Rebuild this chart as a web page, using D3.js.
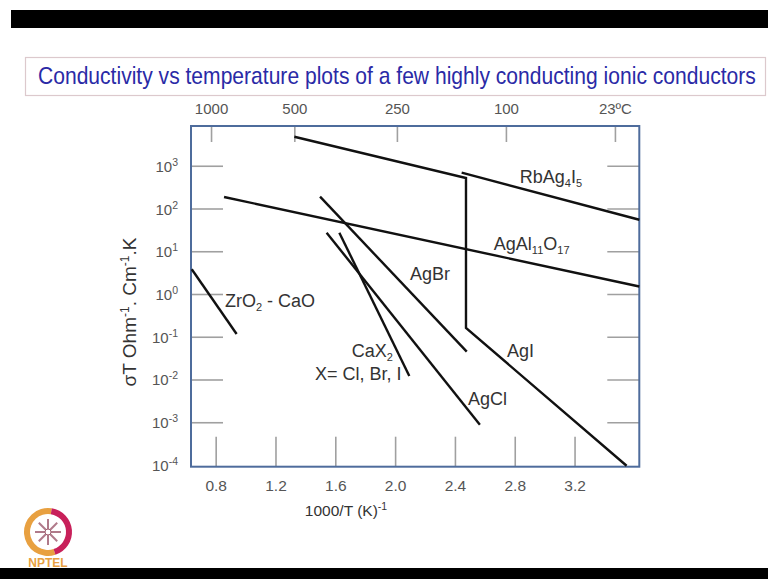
<!DOCTYPE html>
<html><head><meta charset="utf-8">
<script src="https://cdn.jsdelivr.net/npm/d3@7"></script>
<style>
html,body{margin:0;padding:0;background:#fff;}
svg text{font-family:"Liberation Sans",Arial,sans-serif;}
</style></head>
<body>
<svg id="chart" width="768" height="579"></svg>
<script>
// ---------- data ----------
const titleText = "Conductivity vs temperature plots of a few highly conducting ionic conductors";
const xTicks = [0.8, 1.2, 1.6, 2.0, 2.4, 2.8, 3.2];
const xTickLabels = ["0.8", "1.2", "1.6", "2.0", "2.4", "2.8", "3.2"];
const yTickExponents = [3, 2, 1, 0, -1, -2, -3, -4];
const topTickLabels = ["1000", "500", "250", "100", "23ºC"];
const topTickPositions = [0.769, 1.326, 2.012, 2.741, 3.470]; // 1000/T positions
const seriesNames = ["ZrO2-CaO", "AgAl11O17", "AgI", "RbAg4I5", "AgBr", "AgCl", "CaX2"];
const seriesX = [
  [0.64, 0.94],
  [0.856, 3.633],
  [1.326, 2.474, 2.474, 3.548],
  [2.445, 3.633],
  [1.498, 2.479],
  [1.542, 2.567],
  [1.627, 2.095]
];
const seriesSigmaT = [
  [3.79, 0.116],
  [186, 1.5],
  [4775, 518, 0.161, 0.000096],
  [689, 54.5],
  [189, 0.0449],
  [27.2, 0.00087],
  [27.2, 0.0121]
];

// ---------- layout ----------
const W = 768, H = 579;
const plot = {left: 191, right: 639.3, top: 126, bottom: 466.7};
const svg = d3.select("#chart");

const x = d3.scaleLinear().domain([0.635, 3.633]).range([plot.left, plot.right]);
const y = d3.scaleLog().domain([Math.pow(10, -4.04), Math.pow(10, 3.93)]).range([plot.bottom, plot.top]);

// slide chrome
svg.append("rect").attr("x", 11).attr("y", 10).attr("width", W - 11).attr("height", 18).attr("fill", "#000");
svg.append("rect").attr("x", 0).attr("y", 568).attr("width", W).attr("height", 11).attr("fill", "#000");

// title box
svg.append("rect").attr("x", 25.5).attr("y", 57.5).attr("width", 740).attr("height", 38)
  .attr("fill", "#fff").attr("stroke", "#dcc9cd").attr("stroke-width", 1.2);
const title = svg.append("text").attr("x", 0).attr("y", 0)
  .attr("font-size", 24).attr("fill", "#2a2aa6")
  .text(titleText);
const natural = title.node().getComputedTextLength();
const sx = 718 / natural;
title.attr("transform", `translate(38,84) scale(${sx},1)`);

// ticks (gray, inward)
const tickColor = "#a0a0a0";
// bottom ticks
const xAxis = d3.axisBottom(x).tickValues(xTicks).tickSizeInner(-30).tickSizeOuter(0).tickFormat((d, i) => xTickLabels[i]);
const gx = svg.append("g").attr("transform", `translate(0,${plot.bottom})`).call(xAxis);
gx.select(".domain").remove();
gx.selectAll(".tick line").attr("stroke", tickColor).attr("stroke-width", 1.6);
gx.selectAll(".tick text").attr("dy", 0).attr("y", 24).attr("font-size", 15.5).attr("fill", "#555")
  .style("font-family", "'Liberation Sans',Arial,sans-serif");

// top ticks
const gtop = svg.append("g").attr("transform", `translate(0,${plot.top})`)
  .call(d3.axisTop(x).tickValues(topTickPositions).tickSizeInner(-16).tickSizeOuter(0).tickFormat((d, i) => topTickLabels[i]));
gtop.select(".domain").remove();
gtop.selectAll(".tick line").attr("stroke", tickColor).attr("stroke-width", 1.6);
gtop.selectAll(".tick text").attr("dy", 0).attr("y", -12).attr("font-size", 15).attr("fill", "#555")
  .style("font-family", "'Liberation Sans',Arial,sans-serif");

// left/right ticks
const yTickVals = yTickExponents.map(e => Math.pow(10, e));
const innerY = yTickVals.filter(v => v > 2e-4);
const gl = svg.append("g").attr("transform", `translate(${plot.left},0)`)
  .call(d3.axisLeft(y).tickValues(innerY).tickSizeInner(-32).tickSizeOuter(0).tickFormat(""));
gl.select(".domain").remove();
gl.selectAll(".tick line").attr("stroke", tickColor).attr("stroke-width", 1.6);
const gr = svg.append("g").attr("transform", `translate(${plot.right},0)`)
  .call(d3.axisRight(y).tickValues(innerY).tickSizeInner(-32).tickSizeOuter(0).tickFormat(""));
gr.select(".domain").remove();
gr.selectAll(".tick line").attr("stroke", tickColor).attr("stroke-width", 1.6);

// y tick labels with superscripts
yTickExponents.forEach(e => {
  const t = svg.append("text").attr("x", 178).attr("y", y(Math.pow(10, e)) + 6)
    .attr("text-anchor", "end").attr("font-size", 15).attr("fill", "#555");
  t.append("tspan").text("10");
  t.append("tspan").attr("dy", -6).attr("font-size", 10.5).text(String(e));
});

// frame
svg.append("rect").attr("x", plot.left).attr("y", plot.top)
  .attr("width", plot.right - plot.left).attr("height", plot.bottom - plot.top)
  .attr("fill", "none").attr("stroke", "#4e6c9c").attr("stroke-width", 2);

// series lines
const line = d3.line().x(d => x(d[0])).y(d => y(d[1]));
seriesNames.forEach((name, i) => {
  const pts = seriesX[i].map((v, j) => [v, seriesSigmaT[i][j]]);
  svg.append("path").datum(pts).attr("d", line)
    .attr("fill", "none").attr("stroke", "#111").attr("stroke-width", 2.4)
    .attr("stroke-linejoin", "miter");
});

// series labels (anchor in data units; left/baseline)
const labelAnchors = [
  {parts: [["ZrO", 0], ["2", 1], [" - CaO", 0]], x: 0.862, y: 0.498},
  {parts: [["AgBr", 0]], x: 2.099, y: 2.13},
  {parts: [["CaX", 0], ["2", 1]], x: 1.71, y: 0.0343},
  {parts: [["X= Cl, Br, I", 0]], x: 1.464, y: 0.0098},
  {parts: [["AgCl", 0]], x: 2.487, y: 0.00255},
  {parts: [["AgI", 0]], x: 2.748, y: 0.0343},
  {parts: [["AgAl", 0], ["11", 1], ["O", 0], ["17", 1]], x: 2.66, y: 10.7},
  {parts: [["RbAg", 0], ["4", 1], ["I", 0], ["5", 1]], x: 2.834, y: 395}
];
labelAnchors.forEach(L => {
  const t = svg.append("text").attr("x", x(L.x)).attr("y", y(L.y))
    .attr("font-size", 18).attr("fill", "#333");
  let sub = 0;
  L.parts.forEach(([s, isSub]) => {
    const ts = t.append("tspan").text(s);
    if (isSub && !sub) { ts.attr("dy", 4).attr("font-size", 11); sub = 1; }
    else if (!isSub && sub) { ts.attr("dy", -4); sub = 0; }
    else if (isSub) ts.attr("font-size", 11);
  });
});

// axis titles
const yt = svg.append("text").attr("transform", "translate(136,312) rotate(-90)")
  .attr("text-anchor", "middle").attr("font-size", 19).attr("fill", "#333");
yt.append("tspan").text("σT Ohm");
yt.append("tspan").attr("dy", -7).attr("font-size", 12).text("-1");
yt.append("tspan").attr("dy", 7).text(". Cm");
yt.append("tspan").attr("dy", -7).attr("font-size", 12).text("-1");
yt.append("tspan").attr("dy", 7).text(".K");

const xt = svg.append("text").attr("x", 346).attr("y", 516)
  .attr("text-anchor", "middle").attr("font-size", 15.5).attr("fill", "#333");
xt.append("tspan").text("1000/T (K)");
xt.append("tspan").attr("dy", -6).attr("font-size", 10.5).text("-1");

// NPTEL logo (approximate)
const logo = svg.append("g").attr("transform", "translate(48,532)");
logo.append("path").attr("d", d3.arc()({innerRadius: 18, outerRadius: 24, startAngle: Math.PI * 0.9, endAngle: Math.PI * 2.05}))
  .attr("fill", "#e8a040");
logo.append("path").attr("d", d3.arc()({innerRadius: 18, outerRadius: 24, startAngle: Math.PI * 0.05, endAngle: Math.PI * 0.9}))
  .attr("fill", "#c8205a");
for (let k = 0; k < 8; k++) {
  const a = k * Math.PI / 4;
  logo.append("line").attr("x1", 0).attr("y1", 0)
    .attr("x2", 13 * Math.cos(a)).attr("y2", 13 * Math.sin(a))
    .attr("stroke", "#b07a8a").attr("stroke-width", 2);
}
logo.append("circle").attr("r", 3).attr("fill", "#fff").attr("stroke", "#a06070");
svg.append("text").attr("x", 48).attr("y", 567).attr("text-anchor", "middle")
  .attr("font-size", 12).attr("font-weight", "bold").attr("fill", "#e8a040").text("NPTEL");
</script>
</body></html>
